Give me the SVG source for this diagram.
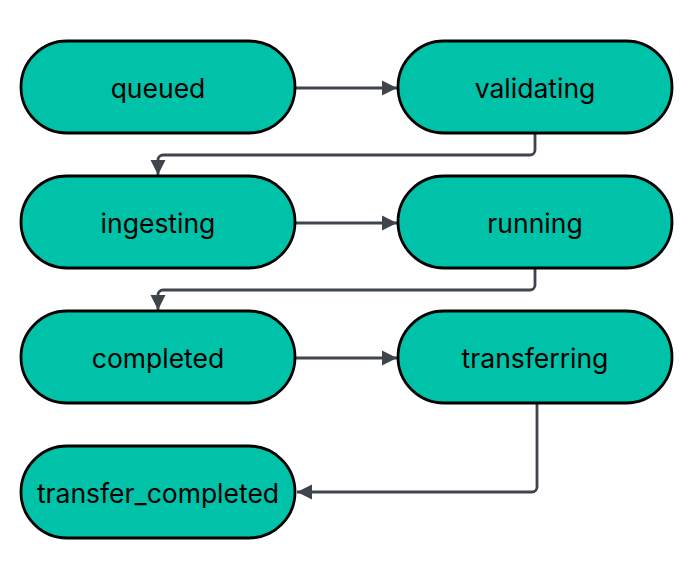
<svg xmlns="http://www.w3.org/2000/svg" width="689" height="564" viewBox="0 0 689 564">
<defs>
<style>
.node rect{fill:#00C2A8;stroke:#000;stroke-width:2.8}
.node text{font-family:Inter,"Liberation Sans",sans-serif;font-size:26.5px;fill:#000;text-anchor:middle;dominant-baseline:central}
.edge{fill:none;stroke:#3F444D;stroke-width:2.8}
</style>
<marker id="arr" viewBox="0 0 10 10" refX="10" refY="5" markerWidth="5.5" markerHeight="5.5" markerUnits="strokeWidth" orient="auto">
<path d="M0,0L10,5L0,10z" fill="#3F444D"/>
</marker>
</defs>
<rect width="689" height="564" fill="#fff"/>
<g id="edges">
<path class="edge" d="M296,88H397" marker-end="url(#arr)"/>
<path class="edge" d="M535,133V150a5,5 0 0 1 -5,5H163a5,5 0 0 0 -5,5V175" marker-end="url(#arr)"/>
<path class="edge" d="M296,223H397" marker-end="url(#arr)"/>
<path class="edge" d="M535,268V285a5,5 0 0 1 -5,5H163a5,5 0 0 0 -5,5V310" marker-end="url(#arr)"/>
<path class="edge" d="M296,358H397" marker-end="url(#arr)"/>
<path class="edge" d="M537,403V487a5,5 0 0 1 -5,5H297" marker-end="url(#arr)"/>
</g>
<g id="queued" class="node"><rect x="21" y="41" width="274" height="92" rx="46"/><text x="158" y="88">queued</text></g>
<g id="validating" class="node"><rect x="398" y="41" width="274" height="92" rx="46"/><text x="535" y="88">validating</text></g>
<g id="ingesting" class="node"><rect x="21" y="176" width="274" height="92" rx="46"/><text x="158" y="223">ingesting</text></g>
<g id="running" class="node"><rect x="398" y="176" width="274" height="92" rx="46"/><text x="535" y="223">running</text></g>
<g id="completed" class="node"><rect x="21" y="311" width="274" height="92" rx="46"/><text x="158" y="358">completed</text></g>
<g id="transferring" class="node"><rect x="398" y="311" width="274" height="92" rx="46"/><text x="535" y="358">transferring</text></g>
<g id="transfer_completed" class="node"><rect x="21" y="446" width="274" height="92" rx="46"/><text x="158" y="493">transfer_completed</text></g>
</svg>
